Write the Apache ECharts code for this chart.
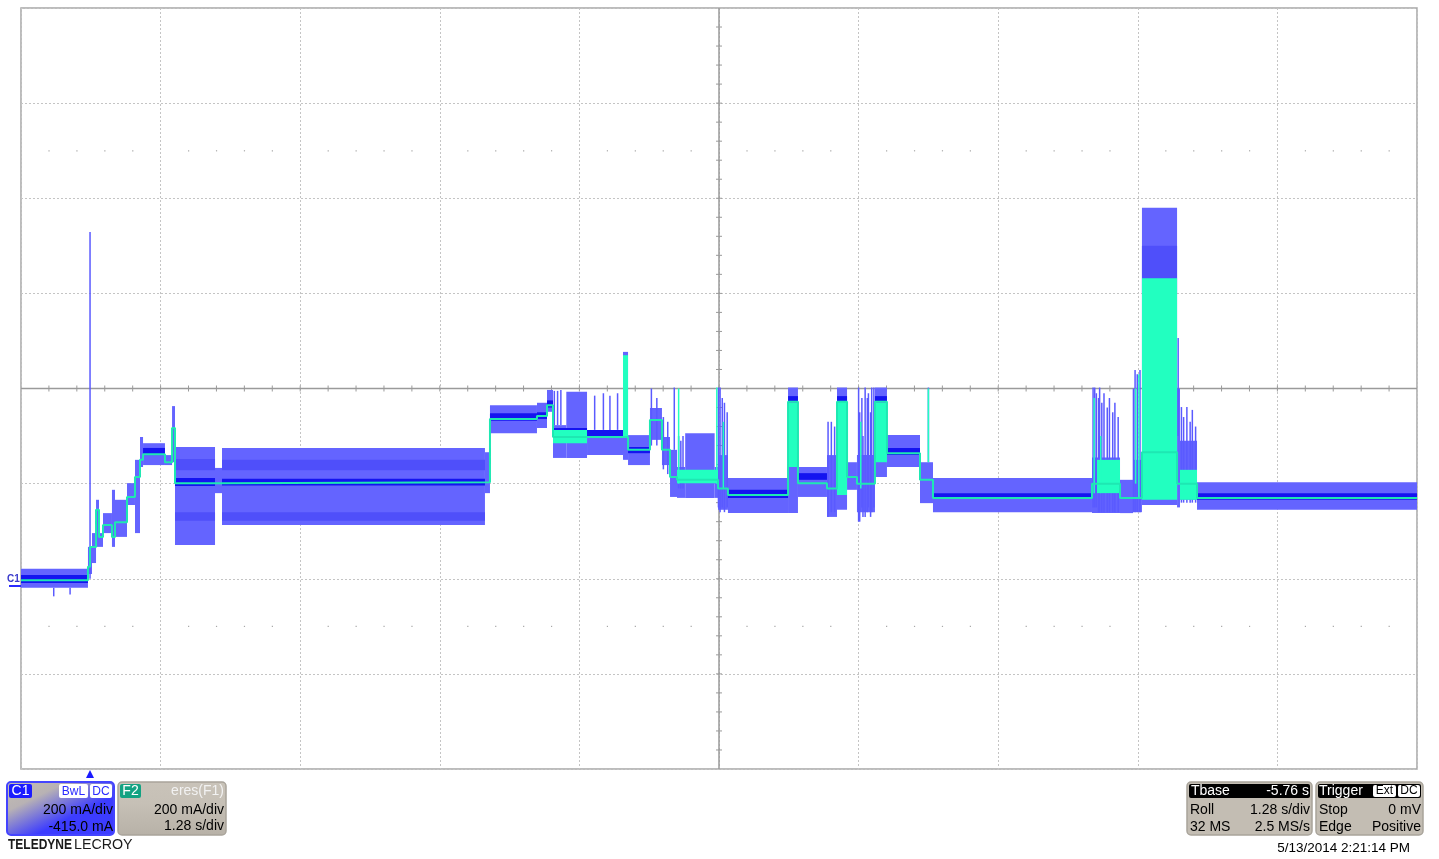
<!DOCTYPE html>
<html>
<head>
<meta charset="utf-8">
<script src="https://cdn.jsdelivr.net/npm/echarts@6/dist/echarts.min.js"></script>
<style>
html,body{margin:0;padding:0;background:#fff;}
#chart{width:1439px;height:859px;}
</style>
</head>
<body>
<div id="chart"></div>
<script>
// ---- data (time in s, current in mA) ----
// C1 raw envelope segments: [tStart, tEnd, low, high]
const envelope = [
  [0.000, 0.614, -19, 21],
  [0.614, 0.651, 10, 67],
  [0.651, 0.688, 33, 96],
  [0.688, 0.715, 67, 166],
  [0.715, 0.752, 67, 96],
  [0.752, 0.834, 96, 138],
  [0.834, 0.862, 67, 187],
  [0.862, 0.972, 88, 166],
  [0.972, 1.045, 155, 201],
  [1.045, 1.091, 96, 250],
  [1.091, 1.119, 235, 298],
  [1.119, 1.320, 239, 285],
  [1.320, 1.385, 239, 260],
  [1.385, 1.412, 245, 363],
  [1.412, 1.779, 71, 277],
  [1.779, 1.843, 180, 233],
  [1.843, 4.254, 113, 275],
  [4.254, 4.300, 180, 266],
  [4.300, 4.731, 306, 365],
  [4.731, 4.823, 317, 370],
  [4.823, 4.878, 351, 397],
  [4.878, 5.000, 254, 323],
  [5.000, 5.190, 254, 393],
  [5.190, 5.520, 260, 313],
  [5.520, 5.566, 250, 477],
  [5.566, 5.767, 239, 302],
  [5.767, 5.877, 292, 359],
  [5.877, 5.951, 239, 298],
  [5.951, 6.015, 172, 271],
  [6.015, 6.090, 170, 235],
  [6.090, 6.360, 170, 306],
  [6.360, 6.391, 170, 235],
  [6.391, 6.482, 145, 260],
  [6.482, 7.033, 138, 212],
  [7.033, 7.124, 138, 402],
  [7.124, 7.390, 172, 235],
  [7.390, 7.482, 130, 260],
  [7.482, 7.574, 145, 402],
  [7.574, 7.665, 187, 245],
  [7.665, 7.830, 140, 260],
  [7.830, 7.940, 214, 402],
  [7.940, 8.243, 235, 302],
  [8.243, 8.362, 159, 245],
  [8.362, 9.820, 140, 212],
  [9.820, 10.077, 138, 255],
  [10.077, 10.196, 138, 208],
  [10.196, 10.278, 140, 250],
  [10.278, 10.600, 155, 780],
  [10.600, 10.627, 150, 400],
  [10.627, 10.783, 166, 290],
  [10.783, 12.800, 145, 203]
];
// denser persistence bands inside the envelope: [tStart, tEnd, low, high]
const denseBands = [
  [1.412, 1.779, 122, 140],
  [1.412, 1.779, 228, 252],
  [1.843, 4.254, 122, 140],
  [1.843, 4.254, 228, 250],
  [10.278, 10.600, 600, 700]
];
// dark core of C1: [tStart, tEnd, low, high]
const core = [
  [0.000, 0.614, -9, 8],
  [1.119, 1.320, 260, 275],
  [1.412, 1.779, 195, 212],
  [1.843, 4.254, 196, 210],
  [4.300, 4.731, 332, 348],
  [4.731, 4.823, 336, 350],
  [4.823, 4.878, 360, 375],
  [4.878, 5.190, 298, 317],
  [5.190, 5.520, 298, 313],
  [5.566, 5.767, 264, 277],
  [6.482, 7.033, 170, 187],
  [7.033, 7.124, 372, 384],
  [7.124, 7.390, 208, 222],
  [7.482, 7.574, 372, 384],
  [7.830, 7.940, 372, 384],
  [7.940, 8.243, 260, 275],
  [8.362, 9.820, 168, 180],
  [10.783, 12.800, 166, 180]
];
// C1 narrow spikes: [t, low, high]
const spikes = [
  [0.633, 0, 729], [0.300, -37, -19], [0.450, -33, -19],
  [4.890, 323, 395], [4.920, 323, 395], [4.950, 323, 397],
  [5.260, 313, 385], [5.340, 313, 390], [5.400, 313, 385], [5.470, 313, 390],
  [5.780, 280, 400], [5.830, 280, 380], [5.890, 230, 340], [5.930, 220, 330],
  [5.990, 271, 402],
  [6.030, 190, 300], [6.050, 190, 290], [6.070, 190, 300],
  [6.395, 150, 402], [6.410, 140, 402], [6.430, 150, 380], [6.450, 140, 370], [6.475, 150, 350],
  [7.400, 130, 330], [7.430, 140, 330], [7.460, 140, 320],
  [7.680, 120, 402], [7.690, 120, 350], [7.710, 150, 380], [7.720, 130, 300], [7.740, 130, 402],
  [7.760, 140, 380], [7.770, 150, 390], [7.790, 130, 350], [7.800, 140, 402], [7.820, 150, 402],
  [8.320, 245, 402],
  [9.830, 150, 402], [9.845, 150, 402], [9.860, 150, 390], [9.880, 140, 380], [9.890, 140, 402],
  [9.910, 140, 370], [9.930, 140, 390], [9.960, 140, 360], [9.980, 140, 380], [10.010, 140, 350],
  [10.030, 140, 370], [10.060, 140, 340],
  [10.200, 140, 400], [10.215, 140, 439], [10.235, 140, 430], [10.260, 140, 439],
  [10.610, 300, 506],
  [10.640, 160, 361], [10.660, 160, 340], [10.690, 160, 361], [10.720, 160, 330], [10.740, 160, 355], [10.770, 160, 320]
];
// F2 eres trace, step values: [t, value]
const eres = [
  [0.000, -3], [0.614, 25], [0.633, 67], [0.651, 67], [0.688, 145], [0.715, 88],
  [0.752, 113], [0.834, 88], [0.862, 119], [0.972, 172], [1.045, 214], [1.091, 250],
  [1.119, 262], [1.320, 245], [1.385, 317], [1.412, 201], [1.843, 203], [4.300, 336],
  [4.731, 342], [4.823, 365], [4.878, 298], [5.520, 298], [5.566, 271], [5.767, 334],
  [5.877, 271], [5.951, 214], [6.015, 208], [6.391, 190], [6.482, 176], [7.033, 372],
  [7.124, 201], [7.390, 190], [7.482, 372], [7.574, 214], [7.665, 200], [7.830, 372],
  [7.940, 264], [8.243, 208], [8.362, 170], [9.820, 200], [10.077, 170], [10.278, 266],
  [10.600, 200], [10.783, 170], [12.800, 170]
];
// F2 filled (fast toggling) regions: [tStart, tEnd, low, high]
const eresFill = [
  [4.878, 5.190, 285, 313],
  [5.520, 5.566, 298, 470],
  [6.015, 6.391, 201, 229],
  [7.033, 7.124, 235, 370],
  [7.482, 7.574, 176, 372],
  [7.830, 7.940, 245, 370],
  [9.866, 10.077, 180, 250],
  [10.278, 10.600, 166, 632],
  [10.627, 10.783, 166, 229]
];
// F2 narrow spikes: [t, low, high]
const eresSpikes = [
  [6.030, 200, 400], [6.380, 200, 402], [6.440, 190, 330],
  [7.700, 190, 330], [8.320, 245, 400], [9.840, 180, 380], [9.900, 180, 300],
  [10.220, 200, 400], [10.250, 170, 430]
];

const chart = echarts.init(document.getElementById('chart'), null, {renderer: 'canvas'});

function rectRender(color) {
  return function (params, api) {
    const p0 = api.coord([api.value(0), api.value(3)]);
    const p1 = api.coord([api.value(1), api.value(2)]);
    return {
      type: 'rect',
      shape: {x: p0[0], y: p0[1], width: Math.max(p1[0] - p0[0], 1), height: Math.max(p1[1] - p0[1], 1)},
      style: {fill: color}
    };
  };
}
function spikeRender(color, w) {
  return function (params, api) {
    const a = api.coord([api.value(0), api.value(1)]);
    const b = api.coord([api.value(0), api.value(2)]);
    return {type: 'line', shape: {x1: a[0], y1: a[1], x2: b[0], y2: b[1]}, style: {stroke: color, lineWidth: w}};
  };
}
function graticuleRender(params, api) {
  const kids = [];
  const gc = '#9a9a9a';
  const c = api.coord([6.4, 400]);
  const l = api.coord([0, 400])[0], r = api.coord([12.8, 400])[0];
  const t = api.coord([6.4, 1200])[1], b = api.coord([6.4, -400])[1];
  kids.push({type: 'line', shape: {x1: l, y1: c[1], x2: r, y2: c[1]}, style: {stroke: gc, lineWidth: 1.5}});
  kids.push({type: 'line', shape: {x1: c[0], y1: t, x2: c[0], y2: b}, style: {stroke: gc, lineWidth: 1.5}});
  for (let i = 1; i < 50; i++) {
    const x = api.coord([i * 0.256, 400])[0];
    kids.push({type: 'line', shape: {x1: x, y1: c[1] - 3, x2: x, y2: c[1] + 3}, style: {stroke: gc, lineWidth: 1}});
    if (i % 5 !== 0) {
      [900, -100].forEach(function (v) {
        const y = api.coord([0, v])[1];
        kids.push({type: 'rect', shape: {x: x - 0.5, y: y - 0.5, width: 1.2, height: 1.2}, style: {fill: '#a8a8a8'}});
      });
    }
  }
  for (let j = 1; j < 40; j++) {
    const y = api.coord([6.4, -400 + j * 40])[1];
    kids.push({type: 'line', shape: {x1: c[0] - 3, y1: y, x2: c[0] + 3, y2: y}, style: {stroke: gc, lineWidth: 1}});
  }
  return {type: 'group', children: kids};
}

const FONT = '"Liberation Sans", Arial, sans-serif';
function txt(x, y, s, color, align, size, weight) {
  return {type: 'text', x: x, y: y, style: {text: s, fill: color, font: (weight || 'normal') + ' ' + (size || 14) + 'px ' + FONT, textAlign: align || 'left', textVerticalAlign: 'middle'}};
}
function box(x, y, w, h, fill, stroke, r, lw) {
  return {type: 'rect', shape: {x: x, y: y, width: w, height: h, r: r || 0}, style: {fill: fill, stroke: stroke || null, lineWidth: lw || 1}};
}
function squeezed(x, y, s, size, weight, sx) {
  const t = txt(0, 0, s, '#1a1a1a', 'left', size, weight);
  t.x = x; t.y = y; t.scaleX = sx;
  return t;
}

const graphics = [
  // trigger marker
  {type: 'polygon', shape: {points: [[86, 778], [94, 778], [90, 770]]}, style: {fill: '#1a1aff'}},
  // C1 ground marker
  txt(7, 579, 'C1', '#3a3acc', 'left', 10, 'bold'),
  {type: 'line', shape: {x1: 9, y1: 586, x2: 21, y2: 586}, style: {stroke: '#2a2aff', lineWidth: 2}},
  // C1 panel
  {type: 'rect', shape: {x: 7, y: 782, width: 107, height: 53, r: 4},
   style: {fill: new echarts.graphic.LinearGradient(0, 0, 0.25, 1, [
     {offset: 0, color: '#c6bfb1'}, {offset: 0.45, color: '#b8b2b4'}, {offset: 1, color: '#3c3cff'}]),
     stroke: '#4444ff', lineWidth: 2}},
  box(9, 784, 23, 14, '#1c1cff', null, 2),
  txt(20.5, 791.5, 'C1', '#ffffff', 'center', 14),
  box(59, 784, 29, 14, '#ffffff', null, 2),
  txt(73.5, 791.5, 'BwL', '#2a2aff', 'center', 12),
  box(90, 784, 22, 14, '#ffffff', null, 2),
  txt(101, 791.5, 'DC', '#2a2aff', 'center', 12),
  txt(113, 810, '200 mA/div', '#000000', 'right', 14),
  txt(113, 827, '-415.0 mA', '#000000', 'right', 14),
  // F2 panel
  {type: 'rect', shape: {x: 118, y: 782, width: 108, height: 53, r: 4},
   style: {fill: new echarts.graphic.LinearGradient(0, 0, 0, 1, [
     {offset: 0, color: '#c9c3b9'}, {offset: 0.4, color: '#c6c0b6'}, {offset: 1, color: '#b7b1a7'}]),
     stroke: '#a9a49b', lineWidth: 1.5}},
  box(120, 784, 21, 14, '#12a282', null, 2),
  txt(130.5, 791.5, 'F2', '#ffffff', 'center', 14),
  txt(224, 791.5, 'eres(F1)', '#f2f2f2', 'right', 14),
  txt(224, 810, '200 mA/div', '#000000', 'right', 14),
  txt(224, 826, '1.28 s/div', '#000000', 'right', 14),
  // brand
  squeezed(8, 845, 'TELEDYNE', 15, 'bold', 0.8),
  squeezed(74, 845, 'LECROY', 15, 'normal', 0.95),
  // Tbase panel
  box(1187, 782, 125, 53, '#c3bdb3', '#a9a49b', 4, 1.5),
  box(1189, 784, 121, 14, '#000000', null, 2),
  txt(1191, 791, 'Tbase', '#ffffff', 'left', 14),
  txt(1309, 791, '-5.76 s', '#ffffff', 'right', 14),
  txt(1190, 810, 'Roll', '#000000', 'left', 14),
  txt(1310, 810, '1.28 s/div', '#000000', 'right', 14),
  txt(1190, 827, '32 MS', '#000000', 'left', 14),
  txt(1310, 827, '2.5 MS/s', '#000000', 'right', 14),
  // Trigger panel
  box(1316, 782, 107, 53, '#c3bdb3', '#a9a49b', 4, 1.5),
  box(1318, 784, 103, 14, '#000000', null, 2),
  txt(1319, 791, 'Trigger', '#ffffff', 'left', 14),
  box(1373, 785, 23, 12, '#ffffff', null, 2),
  txt(1384.5, 791, 'Ext', '#000000', 'center', 12),
  box(1398, 785, 22, 12, '#ffffff', null, 2),
  txt(1409, 791, 'DC', '#000000', 'center', 12),
  txt(1319, 810, 'Stop', '#000000', 'left', 14),
  txt(1421, 810, '0 mV', '#000000', 'right', 14),
  txt(1319, 827, 'Edge', '#000000', 'left', 14),
  txt(1421, 827, 'Positive', '#000000', 'right', 14),
  // date
  txt(1410, 848, '5/13/2014 2:21:14 PM', '#000000', 'right', 13.5)
];

const option = {
  animation: false,
  backgroundColor: '#ffffff',
  grid: {left: 21, top: 8, width: 1396, height: 761, show: true, borderColor: '#a6a6a6', borderWidth: 1.5, backgroundColor: '#ffffff'},
  xAxis: {type: 'value', min: 0, max: 12.8, interval: 1.28,
    axisLine: {show: false}, axisTick: {show: false}, axisLabel: {show: false},
    splitLine: {show: true, lineStyle: {color: '#c4c4c4', type: [2, 2], width: 1}}},
  yAxis: {type: 'value', min: -400, max: 1200, interval: 200,
    axisLine: {show: false}, axisTick: {show: false}, axisLabel: {show: false},
    splitLine: {show: true, lineStyle: {color: '#c4c4c4', type: [2, 2], width: 1}}},
  series: [
    {type: 'custom', silent: true, renderItem: graticuleRender, data: [[6.4, 400]], encode: {x: 0, y: 1}, z: 1},
    {type: 'custom', silent: true, renderItem: rectRender('#6464ff'), data: envelope, encode: {x: [0, 1], y: [2, 3]}, z: 2},
    {type: 'custom', silent: true, renderItem: rectRender('#4f4ffa'), data: denseBands, encode: {x: [0, 1], y: [2, 3]}, z: 3},
    {type: 'custom', silent: true, renderItem: spikeRender('#5a5aff', 1.5), data: spikes, encode: {x: 0, y: [1, 2]}, z: 3},
    {type: 'custom', silent: true, renderItem: rectRender('#1414f0'), data: core, encode: {x: [0, 1], y: [2, 3]}, z: 4},
    {type: 'custom', silent: true, renderItem: rectRender('#22ffc0'), data: eresFill, encode: {x: [0, 1], y: [2, 3]}, z: 5},
    {type: 'custom', silent: true, renderItem: spikeRender('#22ffc0', 1.5), data: eresSpikes, encode: {x: 0, y: [1, 2]}, z: 5},
    {type: 'line', silent: true, data: eres, step: 'end', symbol: 'none', lineStyle: {color: '#1ee8b2', width: 2}, z: 6}
  ],
  graphic: graphics
};
chart.setOption(option);
</script>
</body>
</html>
